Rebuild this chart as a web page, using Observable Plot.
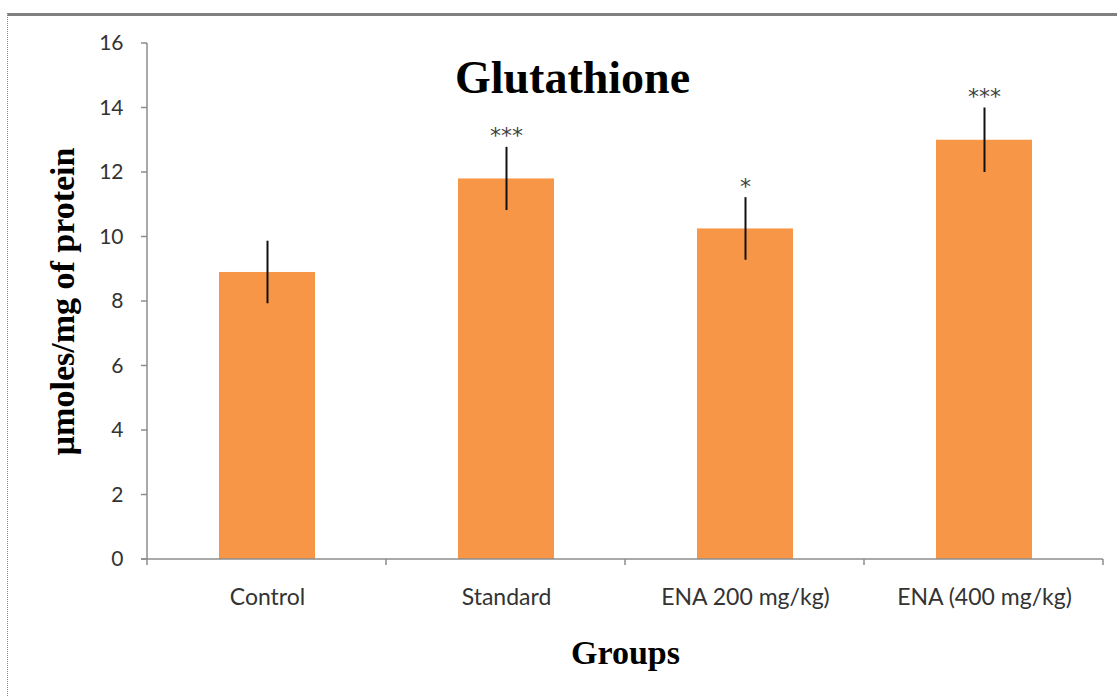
<!DOCTYPE html>
<html>
<head>
<meta charset="utf-8">
<script src="https://cdn.jsdelivr.net/npm/d3@7"></script>
<script src="https://cdn.jsdelivr.net/npm/@observablehq/plot@0.6"></script>
<style>
  html, body { margin: 0; padding: 0; background: #fff; overflow: hidden; }
  #wrap { position: relative; width: 1117px; height: 696px; }
  #border { position: absolute; left: 7px; top: 13px; width: 1200px; height: 800px;
            border-top: 3px solid #808080; border-left: 1px dotted #8a8a8a; pointer-events: none; }
  #chart { position: absolute; left: 0; top: 0; }
</style>
</head>
<body>
<div id="wrap"><div id="chart"></div><div id="border"></div></div>
<script>
// ---- data ----
const groups = ["Control", "Standard", "ENA 200 mg/kg)", "ENA (400 mg/kg)"];
const means  = [8.9, 11.8, 10.25, 13.0];
const errors = [0.97, 0.98, 0.97, 1.0];
const signif = ["", "***", "*", "***"];
const yTicks = [0, 2, 4, 6, 8, 10, 12, 14, 16];
const titleText = "Glutathione";
const xLabel = "Groups";
const yLabel = "µmoles/mg of protein";

const table = groups.map((g, i) => ({group: g, mean: means[i], err: errors[i], sig: signif[i]}));

const W = 1117, H = 696;
const ml = 147, mr = 14, mt = 43, mb = 137;
const axisColor = "#8c8c8c";
const serif = "'Liberation Serif', 'Times New Roman', serif";

// axis lines and ticks drawn from the scales
function axisFrame(index, scales, values, dims) {
  const y = scales.y;
  const g = d3.create("svg:g").attr("stroke", axisColor).attr("stroke-width", 1.5).attr("fill", "none");
  const y0 = dims.height - dims.marginBottom;
  const xl = dims.marginLeft, xr = dims.width - dims.marginRight;
  g.append("line").attr("x1", xl).attr("x2", xl).attr("y1", dims.marginTop).attr("y2", y0);
  g.append("line").attr("x1", xl - 6).attr("x2", xr).attr("y1", y0).attr("y2", y0);
  for (const t of yTicks) {
    g.append("line").attr("x1", xl - 6).attr("x2", xl).attr("y1", y(t)).attr("y2", y(t));
  }
  const step = (xr - xl) / groups.length;
  for (let i = 0; i <= groups.length; i++) {
    const bx = xl + i * step;
    g.append("line").attr("x1", bx).attr("x2", bx).attr("y1", y0).attr("y2", y0 + 6);
  }
  return g.node();
}

const plot = Plot.plot({
  width: W,
  height: H,
  marginLeft: ml,
  marginRight: mr,
  marginTop: mt,
  marginBottom: mb,
  style: {fontFamily: "Lato, sans-serif", fontSize: "21px", color: "#333", background: "transparent"},
  x: {type: "band", domain: groups, paddingInner: 0.6, paddingOuter: 0.3, label: null},
  y: {domain: [0, 16], label: null},
  marks: [
    Plot.barY(table, {x: "group", y: "mean", fill: "#F79646"}),
    Plot.ruleX(table, {x: "group", y1: d => d.mean - d.err, y2: d => d.mean + d.err, stroke: "#111", strokeWidth: 2}),
    Plot.text(table, {x: "group", y: d => d.mean + d.err, text: "sig", dy: -4, lineAnchor: "bottom", fontSize: 22, fontFamily: "'DejaVu Sans', sans-serif", fill: "#404040"}),
    axisFrame,
    Plot.axisY({ticks: yTicks, tickSize: 0, tickPadding: 24, label: null, fontSize: 21, fill: "#333"}),
    Plot.axisX({tickSize: 0, tickPadding: 29, label: null, fontSize: 23, fill: "#333"}),
    Plot.text([titleText], {frameAnchor: "top", dx: -53, dy: 35, lineAnchor: "middle", fontSize: 46, fontWeight: "bold", fontFamily: serif, fill: "#000"}),
    Plot.text([xLabel], {frameAnchor: "bottom", dy: 104, lineAnchor: "bottom", textAnchor: "middle", fontSize: 34, fontWeight: "bold", fontFamily: serif, fill: "#000"}),
    Plot.text([yLabel], {frameAnchor: "left", rotate: -90, dx: -84, textAnchor: "middle", lineAnchor: "middle", fontSize: 34, fontWeight: "bold", fontFamily: serif, fill: "#000"})
  ]
});
document.getElementById("chart").appendChild(plot);
</script>
</body>
</html>
